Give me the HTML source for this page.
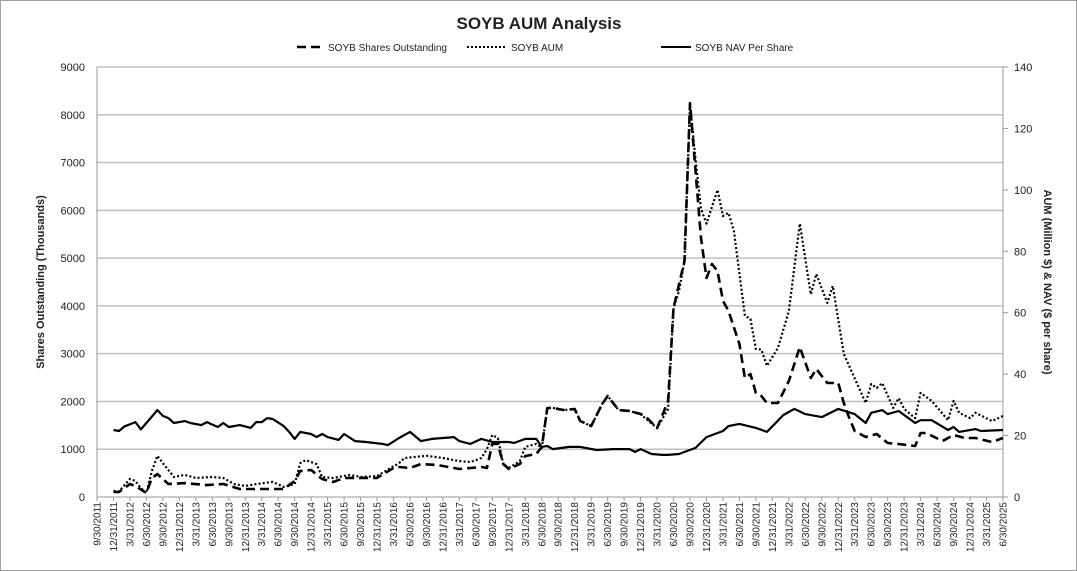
<!DOCTYPE html>
<html><head><meta charset="utf-8">
<style>
body{margin:0;background:#fff;}
#wrap{width:1077px;height:571px;position:relative;box-sizing:border-box;border:1px solid #a0a0a0;overflow:hidden;}
svg text{font-family:"Liberation Sans",sans-serif;fill:#222;}
</style></head>
<body>
<div id="wrap">
<svg id="chart" width="1077" height="571">
<text x="538" y="28" text-anchor="middle" font-size="17" font-weight="bold">SOYB AUM Analysis</text>
<g>
<g>
<line x1="296" y1="46" x2="322" y2="46" stroke="#000" stroke-width="2.5" stroke-dasharray="9,5"/>
<text x="327" y="50" font-size="10">SOYB Shares Outstanding</text></g>
<g>
<line x1="466" y1="46" x2="505" y2="46" stroke="#000" stroke-width="2" stroke-dasharray="2,2"/>
<text x="510" y="50" font-size="10">SOYB AUM</text></g>
<g>
<line x1="660" y1="46" x2="690" y2="46" stroke="#000" stroke-width="2"/>
<text x="694" y="50" font-size="10">SOYB NAV Per Share</text></g>
</g>
<g id="grid"></g>
<g id="axes"></g>
<g id="series"></g>
<text transform="translate(43,281) rotate(-90)" text-anchor="middle" font-size="11" font-weight="bold">Shares Outstanding (Thousands)</text>
<text transform="translate(1043,281) rotate(90)" text-anchor="middle" font-size="11" font-weight="bold">AUM (Million $) &amp; NAV ($ per share)</text>
</svg>
</div>
<script>
// month index: 0 = 9/30/2011
const xLabels=[];
(function(){const md=["9/30","12/31","3/31","6/30"];let y=2011;for(let i=0;i<56;i++){const k=i%4;if(k===2&&i>0)y++;xLabels.push(md[k]+"/"+y);}})();
const leftTicks=[0,1000,2000,3000,4000,5000,6000,7000,8000,9000];
const rightTicks=[0,20,40,60,80,100,120,140];
const navMonths=[3,4,5,7,8,11,12,13,14,16,17,19,20,22,23,24,26,28,29,30,31,32,34,35,36,37,39,40,41,42,44,45,47,49,52,53,55,57,59,61,65,66,68,70,72,75,76,78,80,81,82,83,86,88,91,94,97,98,99,101,103,104,106,109,111,114,115,117,120,122,125,127,129,132,135,138,140,141,143,144,146,149,150,152,155,156,157,160,161,165];
const navValues=[21.8,21.5,23,24.4,22,28.3,26.4,25.7,24.1,24.7,24.1,23.4,24.4,22.8,24.1,22.8,23.4,22.5,24.4,24.4,25.7,25.4,23.1,21.2,18.9,21.2,20.5,19.5,20.5,19.5,18.6,20.5,18.2,17.9,17.3,16.9,19.2,21.2,18.2,18.9,19.5,18.2,17.3,18.9,17.9,17.9,17.6,18.9,18.9,16.3,16.6,15.6,16.3,16.3,15.3,15.6,15.6,14.7,15.6,14,13.7,13.7,14,16,19.5,21.5,23.1,23.8,22.5,21.2,26.7,28.7,27,26,28.7,27,24.1,27.4,28.3,27,28,24.1,25,25,21.8,22.8,21.2,22.1,21.5,21.8];
const aumMonths=[3,4,6,7,8,9,10,11,12,14,16,18,21,23,25,27,29,32,34,36,37,38,40,41,43,46,48,51,54,55,56,60,63,66,68,70,71,72,73,74,75,77,78,80,81,82,83,85,87,88,90,92,93,95,97,99,100,102,104,105,106,107,108,109,110,111,113,114,115,116,118,119,120,121,122,124,126,128,130,131,133,134,136,140,141,142,143,145,146,147,149,150,152,155,156,157,159,160,163,165];
const aumValues=[2,1.8,5.9,5.2,2.9,1.3,8.5,13.4,11,6.5,7.2,6.2,6.5,6.2,4.2,3.6,4.2,4.9,3.3,4.2,11,12,10.7,6.5,6.2,7.2,6.5,6.8,10,11,12.7,13.4,12.7,11.7,11.4,12.7,15.6,20.2,19.2,10.7,9.4,11.7,16.3,17.3,16,29,29,28.3,28.7,24.7,23.1,30.3,32.9,28.3,28,27,25.4,22.5,28.7,61.5,67,76.8,128,110,93.8,89,100,91.5,92.5,86.6,59,58,48.2,48,42.7,48.5,60.6,89,66,72.6,63.2,68.7,46.6,30.6,36.8,35.5,37.1,29,32.2,28.7,25.7,33.9,31.3,25,31.3,27.4,25.7,27.4,24.7,26.4];
const shareMonths=[3,4,6,7,9,10,11,13,16,20,23,26,28,30,34,36,37,39,41,43,45,48,51,54,55,57,59,62,66,70,71,72,73,74,75,77,78,80,81,82,83,85,87,88,90,92,93,95,97,99,100,102,104,105,107,108,110,111,112,113,114,115,117,118,119,120,121,122,124,126,128,130,131,133,135,136,137,138,140,142,144,146,149,150,151,154,156,158,160,163,165];
const shareValues=[105,105,272,230,84,400,480,272,290,250,272,167,167,167,167,335,544,565,377,314,400,400,400,607,628,607,690,670,586,628,607,1109,1109,690,586,690,858,900,1046,1863,1863,1820,1840,1590,1486,1946,2114,1820,1800,1737,1674,1444,2009,3955,4940,8246,5420,4584,4877,4730,4102,3893,3202,2490,2574,2177,2114,1967,1967,2428,3140,2490,2679,2386,2386,1967,1653,1381,1256,1318,1130,1109,1067,1339,1339,1172,1297,1234,1234,1151,1234];

const X0=96,X1=1002,Y0=496,Y1=66;
const xScale=m=>X0+m*(X1-X0)/165;
const yLeft=v=>Y0-v*(Y0-Y1)/9000;
const yRight=v=>Y0-v*(Y0-Y1)/140;
const NS="http://www.w3.org/2000/svg";
function mk(tag,attrs,parent){const e=document.createElementNS(NS,tag);for(const k in attrs)e.setAttribute(k,attrs[k]);parent.appendChild(e);return e;}
const grid=document.getElementById('grid'),axes=document.getElementById('axes'),series=document.getElementById('series');
leftTicks.forEach(v=>{
  if(v>0){const g=mk('line',{x1:X0,x2:X1,y1:yLeft(v),y2:yLeft(v),stroke:'#c0c0c0','stroke-width':1.5},grid);
  
  }
  const t=mk('text',{x:X0-12,y:yLeft(v)+4,'text-anchor':'end','font-size':11},axes);t.textContent=v;
  
  
});
rightTicks.forEach(v=>{
  mk('line',{x1:X1,x2:X1+5,y1:yRight(v),y2:yRight(v),stroke:'#999'},axes);
  const t=mk('text',{x:X1+11,y:yRight(v)+4,'font-size':11},axes);t.textContent=v;
  
  
});
mk('line',{x1:X0,x2:X0,y1:Y1,y2:Y0,stroke:'#999'},axes);
mk('line',{x1:X1,x2:X1,y1:Y1,y2:Y0,stroke:'#999'},axes);
mk('line',{x1:X0,x2:X1,y1:Y0,y2:Y0,stroke:'#999'},axes);
xLabels.forEach((l,i)=>{
  const x=xScale(i*3);
  mk('line',{x1:x,x2:x,y1:Y0,y2:Y0+4,stroke:'#999'},axes);
  const t=mk('text',{transform:`translate(${x+3.5},${Y0+5}) rotate(-90)`,'text-anchor':'end','font-size':10},axes);t.textContent=l;
  
  
});
function line(months,vals,ys,style,name){
  const d=months.map((m,i)=>(i?'L':'M')+xScale(m).toFixed(1)+','+ys(vals[i]).toFixed(1)).join('');
  const p=mk('path',Object.assign({d:d,fill:'none',stroke:'#000','stroke-linejoin':'round'},style),series);
  
  
}
line(navMonths,navValues,yRight,{'stroke-width':2.2},'nav-per-share-line');
line(aumMonths,aumValues,yRight,{'stroke-width':2.2,'stroke-dasharray':'2,2.2'},'aum-line');
line(shareMonths,shareValues,yLeft,{'stroke-width':2.6,'stroke-dasharray':'9,5'},'shares-outstanding-line');
</script>
</body></html>
